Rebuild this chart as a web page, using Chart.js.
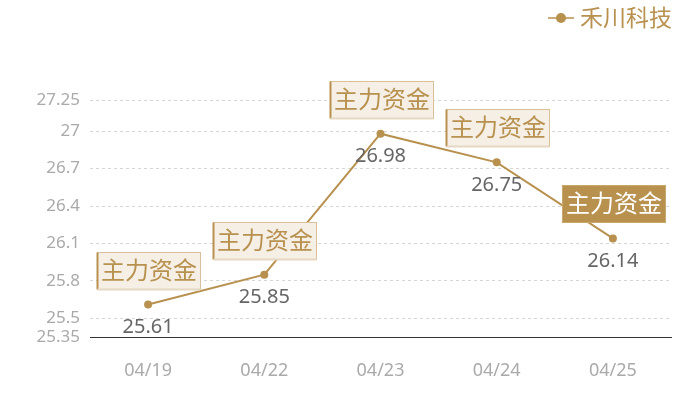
<!DOCTYPE html>
<html>
<head>
<meta charset="utf-8">
<script src="https://cdn.jsdelivr.net/npm/chart.js@4/dist/chart.umd.min.js"></script>
<style>
  html, body { margin: 0; padding: 0; background: #fff; }
  #wrap { width: 700px; height: 400px; }
</style>
</head>
<body>
<div id="wrap"><canvas id="chart" width="700" height="400"></canvas></div>
<script>
const seriesName = '禾川科技';
const categories = ['04/19', '04/22', '04/23', '04/24', '04/25'];
const prices = [25.61, 25.85, 26.98, 26.75, 26.14];
const flagText = '主力资金';
const flagActive = [false, false, false, false, true];
const yTicks = [25.35, 25.5, 25.8, 26.1, 26.4, 26.7, 27, 27.25];

const gold = '#b8914f';
const fontFamily = '"Noto Sans", "Noto Sans CJK SC", sans-serif';

// value labels under points + flag boxes above them + custom legend
const markPlugin = {
  id: 'marks',
  afterDatasetsDraw(chart) {
    const ctx = chart.ctx;
    const meta = chart.getDatasetMeta(0);
    ctx.save();
    meta.data.forEach((pt, i) => {
      const x = pt.x, y = pt.y;
      // value label
      ctx.font = '20px ' + fontFamily;
      ctx.fillStyle = '#666';
      ctx.textAlign = 'center';
      ctx.textBaseline = 'middle';
      ctx.fillText(String(prices[i]), x, y + 23);

      // flag box
      const w = 103, h = 37;
      const bx = Math.round(x - 51) + 0.5, by = Math.round(y - 16 - h) + 0.5;
      const active = flagActive[i];
      ctx.fillStyle = active ? gold : '#f5efe6';
      ctx.fillRect(bx, by, w, h);
      ctx.strokeStyle = active ? '#c9a86e' : '#d9c09a';
      ctx.lineWidth = 1;
      ctx.strokeRect(bx, by, w, h);
      if (!active) {
        ctx.strokeStyle = gold;
        ctx.lineWidth = 2;
        ctx.beginPath();
        ctx.moveTo(bx, by);
        ctx.lineTo(bx, by + h);
        ctx.stroke();
        ctx.strokeStyle = '#e6d8c2';
        ctx.beginPath();
        ctx.moveTo(bx, by + h);
        ctx.lineTo(bx + w, by + h);
        ctx.stroke();
      }
      ctx.font = '24px ' + fontFamily;
      ctx.fillStyle = active ? '#fff' : gold;
      ctx.fillText(flagText, bx + w / 2, by + h / 2 + 1);
    });

    // legend
    ctx.strokeStyle = gold;
    ctx.lineWidth = 1.5;
    ctx.beginPath();
    ctx.moveTo(548, 18);
    ctx.lineTo(574, 18);
    ctx.stroke();
    ctx.fillStyle = gold;
    ctx.beginPath();
    ctx.arc(561, 18, 5, 0, Math.PI * 2);
    ctx.fill();
    ctx.font = '23px ' + fontFamily;
    ctx.textAlign = 'left';
    ctx.fillText(seriesName, 580, 19);
    ctx.restore();
  }
};

new Chart(document.getElementById('chart').getContext('2d'), {
  type: 'line',
  data: {
    labels: categories,
    datasets: [{
      label: seriesName,
      data: prices,
      borderColor: gold,
      backgroundColor: gold,
      borderWidth: 2,
      pointRadius: 4,
      pointBackgroundColor: gold,
      pointBorderWidth: 0,
      tension: 0,
      fill: false
    }]
  },
  options: {
    responsive: false,
    animation: false,
    layout: { padding: { top: 100, right: 29, left: 0, bottom: 0 } },
    plugins: {
      legend: { display: false },
      tooltip: { enabled: false }
    },
    scales: {
      x: {
        offset: true,
        grid: { display: false, drawTicks: false },
        border: { display: true, color: '#333', width: 1 },
        ticks: { color: '#aaa', font: { size: 18, family: fontFamily }, padding: 23 },
        afterFit(scale) { scale.height = 63; }
      },
      y: {
        min: 25.35,
        max: 27.25,
        afterBuildTicks(scale) { scale.ticks = yTicks.map(v => ({ value: v })); },
        grid: { color: '#d6d6d6', drawTicks: false },
        border: { display: false, dash: [3, 3] },
        ticks: {
          color: '#aaa',
          font: { size: 17, family: fontFamily },
          padding: 10,
          callback: v => String(v)
        },
        afterFit(scale) { scale.width = 90; }
      }
    }
  },
  plugins: [markPlugin]
});
</script>
</body>
</html>
